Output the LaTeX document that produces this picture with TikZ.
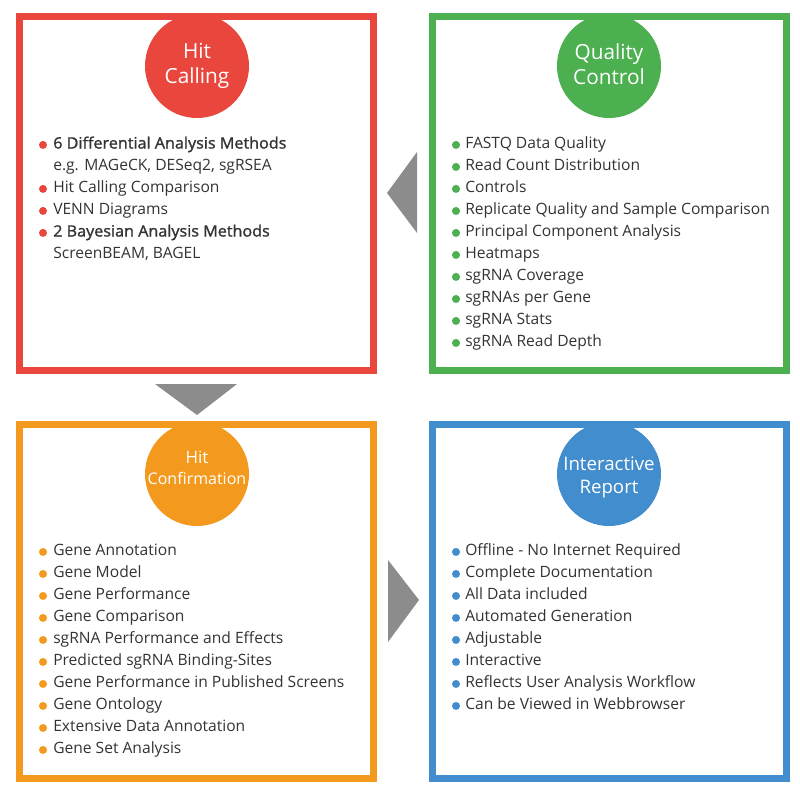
\documentclass[tikz,border=0pt]{standalone}
\usepackage{fontspec}
\setmainfont{Open Sans}
\newfontfamily\semibold[FakeBold=1.4,FakeStretch=1.035]{Open Sans}
\definecolor{hitred}{HTML}{E9473E}
\definecolor{qcgreen}{HTML}{4CAF50}
\definecolor{confor}{HTML}{F39A1E}
\definecolor{repblue}{HTML}{428DCD}
\definecolor{chevgray}{HTML}{8C8C8C}
\definecolor{txt}{HTML}{333333}
\begin{document}
\begin{tikzpicture}[x=0.75pt,y=-0.75pt,
  panel/.style={draw=#1, line width=5.25pt, minimum width=265.5pt, minimum height=265.5pt, inner sep=0pt},
  badge/.style={circle, fill=#1, minimum size=78pt, inner sep=0pt},
  badgetext/.style={text=white, align=center, inner sep=0pt},
  item/.style={anchor=mid west, inner sep=0pt, text=txt, font=\fontsize{11.7}{14}\selectfont},
  dot/.style={circle, fill=#1, minimum size=6pt, inner sep=0pt},
  chevron/.style={fill=chevgray, draw=none}
]
\useasboundingbox (0,0) rectangle (800,793);

% badges first, panel frames on top
\node[badge=hitred]  (b1) at (197,66) {};
\node[badge=qcgreen] (b2) at (609,66) {};
\node[badge=confor]  (b3) at (197,474) {};
\node[badge=repblue] (b4) at (609,474) {};

\node[panel=hitred]  (p1) at (196.5,193.5) {};
\node[panel=qcgreen] (p2) at (609.5,193.5) {};
\node[panel=confor]  (p3) at (196.5,601) {};
\node[panel=repblue] (p4) at (609.5,601) {};

\node[badgetext, font=\fontsize{15.6}{18.75}\selectfont] (t1) at ([yshift=0pt]b1.center) {Hit\\Calling};
\node[badgetext, font=\fontsize{15.6}{18.75}\selectfont] (t2) at ([yshift=1.5pt]b2.center) {Quality\\Control};
\node[badgetext, font=\fontsize{12}{15.75}\selectfont] (t3) at ([yshift=4.8pt]b3.center) {{\fontsize{12.75}{15.75}\selectfont Hit}\\Confirmation};
\node[badgetext, font=\fontsize{14}{17.25}\selectfont] (t4) at ([yshift=-2.2pt]b4.center) {Interactive\\Report};

% flow chevrons between the panels
\fill[chevron] (417,152) -- (417,233) -- (387,193) -- cycle;
\fill[chevron] (155,384) -- (237,384) -- (197,415) -- cycle;
\fill[chevron] (388,560) -- (388,642) -- (419,600) -- cycle;

% Hit Calling list
\begin{scope}[yshift=-2.2pt]
\node[dot=hitred] (d1a) at (43,142) {};
\node[item] (l1a) at (53,142) {\semibold 6 Differential Analysis Methods};
\node[item] (l1b) at (53,164) {e.g. MAGeCK, DESeq2, sgRSEA};
\node[dot=hitred] (d1c) at (43,186) {};
\node[item] (l1c) at (53,186) {Hit Calling Comparison};
\node[dot=hitred] (d1d) at (43,208) {};
\node[item] (l1d) at (53,208) {VENN Diagrams};
\node[dot=hitred] (d1e) at (43,230) {};
\node[item] (l1e) at (53,230) {\semibold 2 Bayesian Analysis Methods};
\node[item] (l1f) at (53,252) {ScreenBEAM, BAGEL};

% Quality Control list
\foreach \t [count=\i from 0] in {FASTQ Data Quality, Read Count Distribution, Controls,
  Replicate Quality and Sample Comparison, Principal Component Analysis, Heatmaps,
  sgRNA Coverage, sgRNAs per Gene, sgRNA Stats, sgRNA Read Depth}{
  \node[dot=qcgreen] (d2\i) at (456,142+22*\i) {};
  \node[item] (l2\i) at (465,142+22*\i) {\t};
}

% Hit Confirmation list
\foreach \t [count=\i from 0] in {Gene Annotation, Gene Model, Gene Performance, Gene Comparison,
  sgRNA Performance and Effects, Predicted sgRNA Binding-Sites,
  Gene Performance in Published Screens, Gene Ontology, Extensive Data Annotation, Gene Set Analysis}{
  \node[dot=confor] (d3\i) at (43,549+22*\i) {};
  \node[item] (l3\i) at (53,549+22*\i) {\t};
}

% Interactive Report list
\foreach \t [count=\i from 0] in {Offline - No Internet Required, Complete Documentation, All Data included,
  Automated Generation, Adjustable, Interactive, Reflects User Analysis Workflow, Can be Viewed in Webbrowser}{
  \node[dot=repblue] (d4\i) at (456,549+22*\i) {};
  \node[item] (l4\i) at (465,549+22*\i) {\t};
}
\end{scope}
\end{tikzpicture}
\end{document}
